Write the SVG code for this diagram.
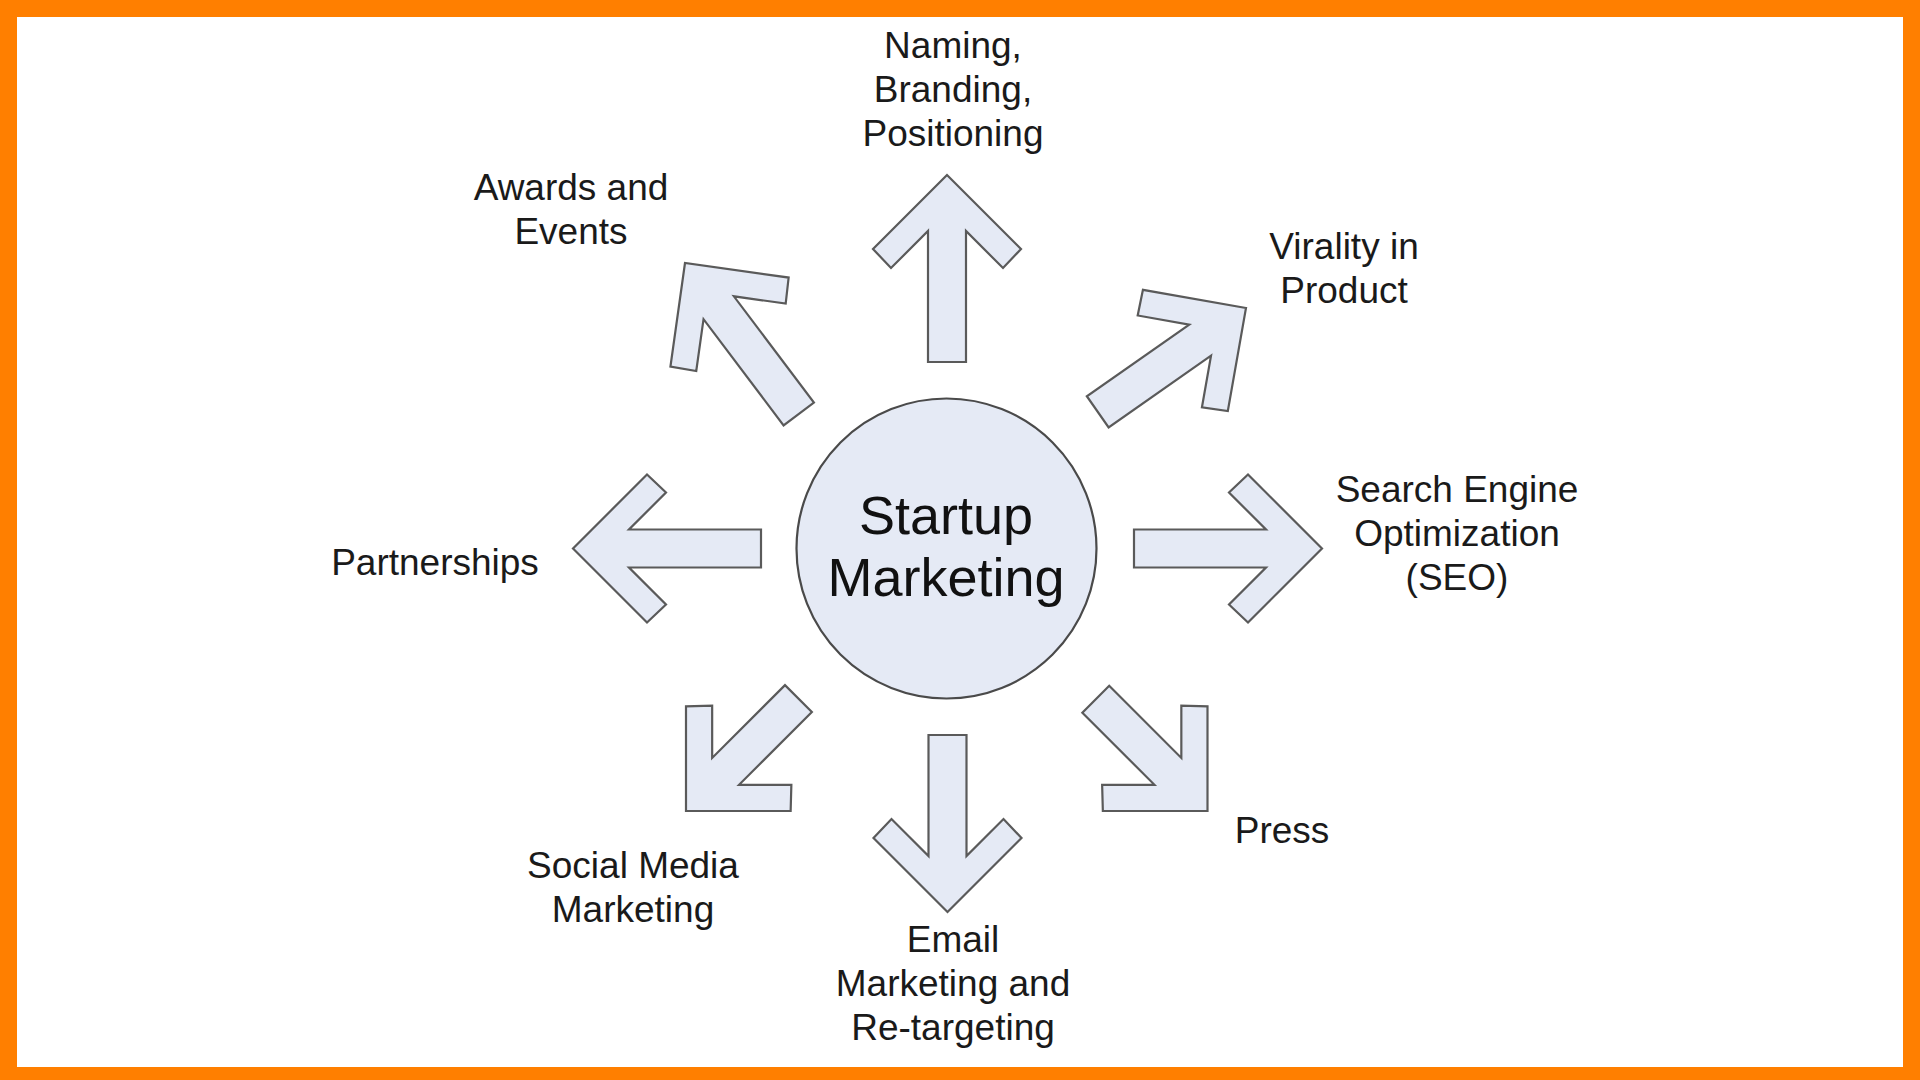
<svg xmlns="http://www.w3.org/2000/svg" width="1920" height="1080" viewBox="0 0 1920 1080">
<style>
.arrow{fill:#E5EAF5;stroke:#5a5a5a;stroke-width:2.2;stroke-linejoin:miter}
.hub{fill:#E5EAF5;stroke:#4a4a4a;stroke-width:2.2}
.lbl{font-family:"Liberation Sans",Arial,sans-serif;font-size:37px;fill:#1a1a1a;text-anchor:middle}
.hubtxt{font-family:"Liberation Sans",Arial,sans-serif;font-size:54px;fill:#111;text-anchor:middle}
</style>
<rect x="0" y="0" width="1920" height="1080" fill="#FF7F00"/>
<rect x="17" y="17" width="1886" height="1050" fill="#FFFFFF"/>
<g id="connectors">
<polygon class="arrow" transform="translate(947,175) rotate(-90)" points="0,0 -74,-74 -93,-56 -56,-19 -187,-19 -187,19 -56,19 -93,56 -74,74"/>
<polygon class="arrow" transform="translate(573,548.5) rotate(180)" points="0,0 -74,-74 -93,-56 -56,-19 -188,-19 -188,19 -56,19 -93,56 -74,74"/>
<polygon class="arrow" transform="translate(1322,548.5)" points="0,0 -74,-74 -93,-56 -56,-19 -188,-19 -188,19 -56,19 -93,56 -74,74"/>
<polygon class="arrow" transform="translate(947.5,912) rotate(90)" points="0,0 -74,-74 -93,-56 -56,-19 -177,-19 -177,19 -56,19 -93,56 -74,74"/>
<polygon class="arrow" transform="translate(685,263) rotate(233)" points="0,0 -74,-74 -93,-56 -56,-19 -189,-19 -189,19 -56,19 -93,56 -74,74"/>
<polygon class="arrow" transform="translate(1246,308) rotate(-35)" points="0,0 -74,-74 -93,-56 -56,-19 -181,-19 -181,19 -56,19 -93,56 -74,74"/>
<polygon class="arrow" transform="translate(686,811) rotate(135)" points="0,0 -74,-74 -93,-56 -56,-19 -159,-19 -159,19 -56,19 -93,56 -74,74"/>
<polygon class="arrow" transform="translate(1207.5,811) rotate(45)" points="0,0 -74,-74 -93,-56 -56,-19 -158,-19 -158,19 -56,19 -93,56 -74,74"/>
</g>
<g id="hub">
<circle class="hub" cx="946.5" cy="548.5" r="150"/>
<text class="hubtxt" x="946" y="534">Startup</text>
<text class="hubtxt" x="946" y="596">Marketing</text>
</g>
<g id="naming">
<text class="lbl" x="953" y="58">Naming,</text>
<text class="lbl" x="953" y="102">Branding,</text>
<text class="lbl" x="953" y="146">Positioning</text>
</g>
<g id="awards">
<text class="lbl" x="571" y="200">Awards and</text>
<text class="lbl" x="571" y="244">Events</text>
</g>
<g id="virality">
<text class="lbl" x="1344" y="259">Virality in</text>
<text class="lbl" x="1344" y="303">Product</text>
</g>
<g id="seo">
<text class="lbl" x="1457" y="502">Search Engine</text>
<text class="lbl" x="1457" y="546">Optimization</text>
<text class="lbl" x="1457" y="590">(SEO)</text>
</g>
<g id="partnerships">
<text class="lbl" x="435" y="575">Partnerships</text>
</g>
<g id="social">
<text class="lbl" x="633" y="878">Social Media</text>
<text class="lbl" x="633" y="922">Marketing</text>
</g>
<g id="email">
<text class="lbl" x="953" y="952">Email</text>
<text class="lbl" x="953" y="996">Marketing and</text>
<text class="lbl" x="953" y="1040">Re-targeting</text>
</g>
<g id="press">
<text class="lbl" x="1282" y="843">Press</text>
</g>
</svg>
